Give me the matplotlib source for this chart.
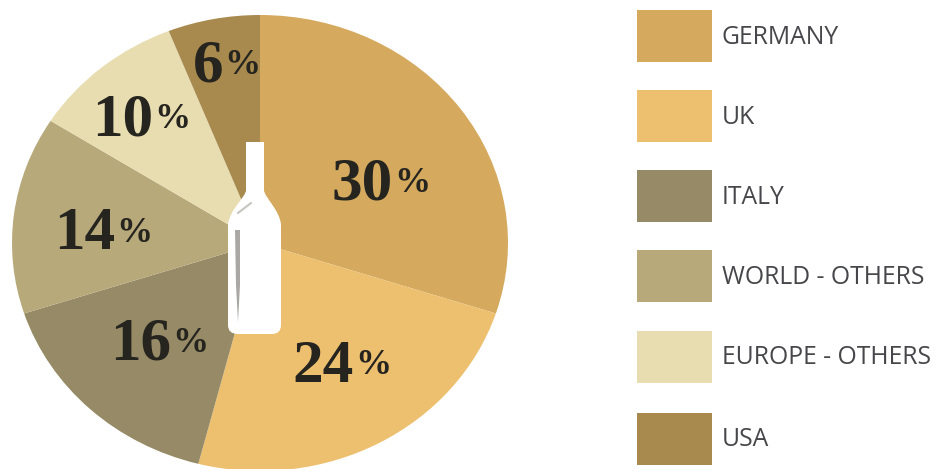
import matplotlib
matplotlib.use('Agg')
import matplotlib.pyplot as plt
from matplotlib.patches import PathPatch, Rectangle
from matplotlib.path import Path

W, H = 937, 469

countries = ["GERMANY", "UK", "ITALY", "WORLD - OTHERS", "EUROPE - OTHERS", "USA"]
shares = [30, 24, 16, 14, 10, 6]
colors = ["#D5AA5E", "#EDC070", "#968B66", "#B8A97B", "#E8DDB0", "#A88A4E"]

# pixel anchors (right edge of the number, vertical centre) for the labels on the pie
label_xy = [(393, 184), (354, 367), (171, 345), (115, 234), (153, 121), (223, 67)]
swatch_tops = [10, 90, 170, 250, 331, 413]
SWATCH_H = 52

fig = plt.figure(figsize=(W / 100, H / 100), dpi=100, facecolor='white')

# the pie is stretched a little wider than tall, so the axes are not square
ax = fig.add_axes([12 / W, (H - 471) / H, 496 / W, 456 / H])
ax.pie(shares, colors=colors, startangle=90, counterclock=False, radius=1.0,
       wedgeprops={'linewidth': 0})
ax.set_aspect('auto')
ax.set_xlim(-1, 1)
ax.set_ylim(-1, 1)

# overlay in pixel units for the bottle, labels and legend
px = fig.add_axes([0, 0, 1, 1], facecolor='none')
px.set_xlim(0, W)
px.set_ylim(H, 0)
px.axis('off')

bottle = Path(
    [(246, 142), (264, 142), (264, 190), (264, 197), (280, 210), (281, 225),
     (281, 325), (281, 334), (272, 334), (238, 334), (228, 334), (228, 325),
     (228, 225), (229, 210), (246, 197), (246, 190), (246, 142)],
    [Path.MOVETO, Path.LINETO, Path.LINETO, Path.CURVE4, Path.CURVE4, Path.CURVE4,
     Path.LINETO, Path.CURVE3, Path.CURVE3, Path.LINETO, Path.CURVE3, Path.CURVE3,
     Path.LINETO, Path.CURVE4, Path.CURVE4, Path.CURVE4, Path.CLOSEPOLY])
px.add_patch(PathPatch(bottle, facecolor='white', edgecolor='none'))

# grey reflection down the left side of the glass
shine = Path(
    [(235, 230), (240, 230), (240, 285), (238, 322), (236, 285), (235, 230)],
    [Path.MOVETO, Path.LINETO, Path.LINETO, Path.LINETO, Path.LINETO, Path.CLOSEPOLY])
px.add_patch(PathPatch(shine, facecolor='#A9A8A4', edgecolor='none'))
px.plot([238, 251], [213, 203], color='#C9C7C2', lw=1.6, solid_capstyle='round')

for value, (x, y) in zip(shares, label_xy):
    px.text(x, y, str(value), family='Liberation Serif', weight='bold', fontsize=44,
            color='#26241F', ha='right', va='center')
    px.text(x + 1, y - 1, '%', family='Liberation Serif', weight='bold', fontsize=26,
            color='#26241F', ha='left', va='center')

for name, color, top in zip(countries, colors, swatch_tops):
    px.add_patch(Rectangle((637, top), 75, SWATCH_H, facecolor=color, edgecolor='none'))
    px.text(722, top + SWATCH_H / 2 + 1, name, family='Open Sans', fontsize=17.8,
            color='#46474A', ha='left', va='center')

fig.savefig('out.png', dpi=100, facecolor='white')
